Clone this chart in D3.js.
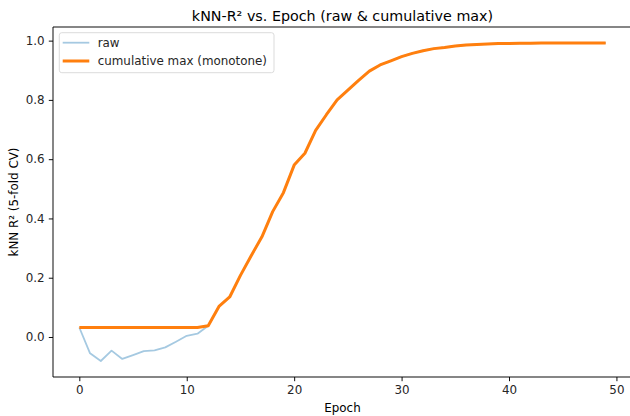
<!DOCTYPE html>
<html>
<head>
<meta charset="utf-8">
<script src="https://cdn.jsdelivr.net/npm/d3@7"></script>
<style>
  body { margin: 0; background: #fff; }
  svg { font-family: "DejaVu Sans", sans-serif; }
</style>
</head>
<body>
<div id="chart"></div>
<script>
// Data
const epochs = d3.range(0, 50);
const rawR2 = [
  0.032, -0.055, -0.081, -0.046, -0.074, -0.061, -0.048, -0.045, -0.035, -0.016,
  0.004, 0.011, 0.038, 0.103, 0.135, 0.208, 0.274, 0.338, 0.423, 0.487,
  0.580, 0.620, 0.697, 0.750, 0.800, 0.833, 0.866, 0.897, 0.918, 0.932,
  0.946, 0.957, 0.966, 0.973, 0.977, 0.982, 0.985, 0.987, 0.989, 0.990,
  0.990, 0.991, 0.991, 0.992, 0.992, 0.992, 0.992, 0.992, 0.992, 0.992
];
const cumMaxR2 = [
  0.032, 0.032, 0.032, 0.032, 0.032, 0.032, 0.032, 0.032, 0.032, 0.032,
  0.032, 0.032, 0.038, 0.103, 0.135, 0.208, 0.274, 0.338, 0.423, 0.487,
  0.580, 0.620, 0.697, 0.750, 0.800, 0.833, 0.866, 0.897, 0.918, 0.932,
  0.946, 0.957, 0.966, 0.973, 0.977, 0.982, 0.985, 0.987, 0.989, 0.990,
  0.990, 0.991, 0.991, 0.992, 0.992, 0.992, 0.992, 0.992, 0.992, 0.992
];
const xTicks = [0, 10, 20, 30, 40, 50];
const yTicks = [0.0, 0.2, 0.4, 0.6, 0.8, 1.0];
const seriesNames = ['raw', 'cumulative max (monotone)'];

// Layout
const W = 630, H = 416;
const margin = { top: 27, right: -2, bottom: 39, left: 53 };
const width = W - margin.left - margin.right;
const height = H - margin.top - margin.bottom;

const svg = d3.select('#chart')
  .append('svg')
  .attr('width', W)
  .attr('height', H);

const g = svg.append('g')
  .attr('transform', `translate(${margin.left},${margin.top})`);

// Scales
const x = d3.scaleLinear().domain([-2.45, 51.45]).range([0, width]);
const y = d3.scaleLinear().domain([-0.135, 1.046]).range([height, 0]);

// Axes
const xAxis = d3.axisBottom(x).tickValues(xTicks).tickFormat(d3.format('d'))
  .tickSizeOuter(0).tickSize(4.2).tickPadding(4.2);
const yAxis = d3.axisLeft(y).tickValues(yTicks).tickFormat(d3.format('.1f'))
  .tickSizeOuter(0).tickSize(4.2).tickPadding(4.2);

g.append('g')
  .attr('transform', `translate(0,${height})`)
  .call(xAxis)
  .call(a => a.select('.domain').remove());

g.append('g')
  .call(yAxis)
  .call(a => a.select('.domain').remove());

g.selectAll('.tick text')
  .attr('font-size', 11.9)
  .attr('fill', '#262626')
  .attr('font-family', '"DejaVu Sans", sans-serif');
g.selectAll('.tick line').attr('stroke', '#000').attr('stroke-width', 0.95);

// Spines
const spine = (x1, y1, x2, y2) => g.append('line')
  .attr('x1', x1).attr('y1', y1).attr('x2', x2).attr('y2', y2)
  .attr('stroke', '#000').attr('stroke-width', 0.95);
spine(0, 0, 0, height);
spine(0, height, width, height);
spine(0, 0, width, 0);
spine(width, 0, width, height);

// Lines
const line = d3.line()
  .x((d, i) => x(epochs[i]))
  .y(d => y(d));

g.append('path')
  .datum(rawR2)
  .attr('fill', 'none')
  .attr('stroke', '#1f77b4')
  .attr('stroke-opacity', 0.4)
  .attr('stroke-width', 1.8)
  .attr('stroke-linejoin', 'round')
  .attr('d', line);

g.append('path')
  .datum(cumMaxR2)
  .attr('fill', 'none')
  .attr('stroke', '#ff7f0e')
  .attr('stroke-width', 3)
  .attr('stroke-linejoin', 'round')
  .attr('d', line);

// Title and labels
svg.append('text')
  .attr('x', margin.left + x(24.5))
  .attr('y', 20.7)
  .attr('text-anchor', 'middle')
  .attr('font-size', 14.3)
  .attr('fill', '#000')
  .text('kNN-R² vs. Epoch (raw & cumulative max)');

svg.append('text')
  .attr('x', margin.left + x(24.5))
  .attr('y', 411.5)
  .attr('text-anchor', 'middle')
  .attr('font-size', 11.9)
  .text('Epoch');

svg.append('text')
  .attr('transform', `translate(17.5,${margin.top + height / 2}) rotate(-90)`)
  .attr('text-anchor', 'middle')
  .attr('font-size', 11.9)
  .text('kNN R² (5-fold CV)');

// Legend
const legend = g.append('g').attr('transform', 'translate(6.3,5.7)');
legend.append('rect')
  .attr('width', 214.7).attr('height', 40)
  .attr('rx', 2.5)
  .attr('fill', '#fff').attr('fill-opacity', 0.8)
  .attr('stroke', '#d9d9d9').attr('stroke-width', 0.95);

const legendStyles = [
  { color: '#1f77b4', opacity: 0.4, w: 1.8 },
  { color: '#ff7f0e', opacity: 1, w: 3 }
];
seriesNames.forEach((name, i) => {
  const yy = 10 + i * 18.3;
  legend.append('line')
    .attr('x1', 3.4).attr('x2', 30).attr('y1', yy).attr('y2', yy)
    .attr('stroke', legendStyles[i].color)
    .attr('stroke-opacity', legendStyles[i].opacity)
    .attr('stroke-width', legendStyles[i].w);
  legend.append('text')
    .attr('x', 38.4).attr('y', yy + 4.3)
    .attr('font-size', 11.9)
    .attr('fill', '#262626')
    .text(name);
});
</script>
</body>
</html>
